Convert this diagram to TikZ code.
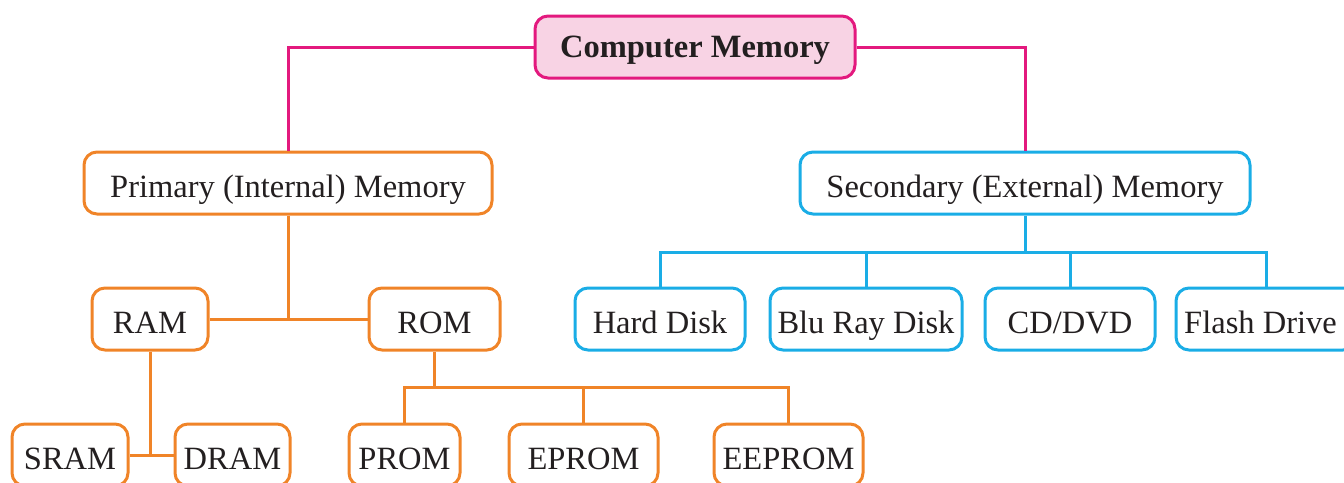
\documentclass[tikz,border=0pt]{standalone}
\usepackage{fontspec}
\setmainfont{Liberation Serif}
\definecolor{cmMag}{HTML}{E3197E}
\definecolor{cmPink}{HTML}{F8D3E4}
\definecolor{cmOrange}{HTML}{F08428}
\definecolor{cmCyan}{HTML}{1AADE6}
\definecolor{cmText}{HTML}{231F20}
\tikzset{
  box/.style={draw, line width=3pt, rounded corners=13pt, fill=white, inner sep=0pt,
    text=cmText, font=\fontsize{32.5}{36}\selectfont, align=center,
    text height=28pt, text depth=0pt, minimum height=62pt},
  obox/.style={box, draw=cmOrange},
  cbox/.style={box, draw=cmCyan},
  olink/.style={draw=cmOrange, line width=3pt},
  clink/.style={draw=cmCyan, line width=3pt},
  mlink/.style={draw=cmMag, line width=3pt},
}
\begin{document}
\begin{tikzpicture}[x=1pt,y=-1pt]
\useasboundingbox (0,0) rectangle (1344,482);
\clip (0,0) rectangle (1344,482);
% nodes
\node[box, draw=cmMag, fill=cmPink, font=\fontsize{32.5}{36}\selectfont\bfseries,
  text height=20pt, minimum width=320pt] (cm) at (695,47) {Computer Memory};
\node[obox, minimum width=408pt] (prim) at (288,183) {Primary (Internal) Memory};
\node[cbox, minimum width=450pt] (sec) at (1025,183) {Secondary (External) Memory};
\node[obox, minimum width=116pt] (ram) at (150,319) {RAM};
\node[obox, minimum width=131pt] (rom) at (434.5,319) {ROM};
\node[cbox, minimum width=170pt] (hd) at (660,319) {Hard Disk};
\node[cbox, minimum width=192pt] (blu) at (866,319) {Blu Ray Disk};
\node[cbox, minimum width=170pt] (cd) at (1070,319) {CD/DVD};
\node[cbox, minimum width=180pt] (fd) at (1266,319) {\hspace*{-11pt}Flash Drive};
\node[obox, minimum width=116pt] (sram) at (70,455) {SRAM};
\node[obox, minimum width=115pt] (dram) at (232.5,455) {DRAM};
\node[obox, minimum width=111pt] (prom) at (404.5,455) {PROM};
\node[obox, minimum width=149pt] (eprom) at (583.5,455) {EPROM};
\node[obox, minimum width=149pt] (eeprom) at (788.5,455) {EEPROM};
% junction coordinates
\coordinate (rombar) at (434.5,387);
\coordinate (secbar) at (1025,252);
% magenta links
\draw[mlink] (cm.west) -| (prim.north);
\draw[mlink] (cm.east) -| (sec.north);
% orange links
\draw[olink] (ram.east) -- (rom.west);
\draw[olink] (prim.south) -- (prim.south |- ram.east);
\draw[olink] (ram.south) -- (ram.south |- sram.east);
\draw[olink] (sram.east) -- (dram.west);
\draw[olink] (rom.south) -- (rombar);
\draw[olink] (prom.north) -- (prom.north |- rombar) -- (eeprom.north |- rombar) -- (eeprom.north);
\draw[olink] (eprom.north) -- (eprom.north |- rombar);
% cyan links
\draw[clink] (sec.south) -- (secbar);
\draw[clink] (hd.north) -- (hd.north |- secbar) -- (fd.north |- secbar) -- (fd.north);
\draw[clink] (blu.north) -- (blu.north |- secbar);
\draw[clink] (cd.north) -- (cd.north |- secbar);
\end{tikzpicture}
\end{document}
